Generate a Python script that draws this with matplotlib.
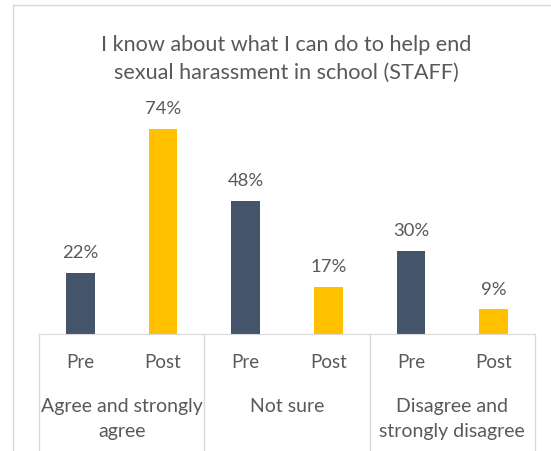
import matplotlib.pyplot as plt
from matplotlib.transforms import blended_transform_factory
from matplotlib.lines import Line2D

plt.rcParams['font.family'] = ['Lato', 'DejaVu Sans']

title = 'I know about what I can do to help end\nsexual harassment in school (STAFF)'
groups = ['Agree and strongly\nagree', 'Not sure', 'Disagree and\nstrongly disagree']
phases = ['Pre', 'Post']
pre_vals = [22, 48, 30]
post_vals = [74, 17, 9]

navy = '#44546A'
gold = '#FFC000'
grey_txt = '#595959'
grid_col = '#D9D9D9'

W, H = 551, 452
fig = plt.figure(figsize=(W / 100, H / 100), dpi=100)

# plot area: baseline at y=335px, x from 39 to 535px
y0, y1 = 335, 113
ax = fig.add_axes([39 / W, 1 - y0 / H, 496 / W, (y0 - y1) / H])
ax.set_xlim(-0.5, 5.5)
ax.set_ylim(0, 80)

xs, vals, cols, labs = [], [], [], []
for i in range(len(groups)):
    xs += [2 * i, 2 * i + 1]
    vals += [pre_vals[i], post_vals[i]]
    cols += [navy, gold]
    labs += phases

ax.bar(xs, vals, width=0.35, color=cols)
for x, v in zip(xs, vals):
    ax.annotate(f'{v}%', (x, v), xytext=(0, 9), textcoords='offset points',
                ha='center', va='bottom', fontsize=13.3, color=grey_txt)

for s in ['top', 'right', 'left']:
    ax.spines[s].set_visible(False)
ax.spines['bottom'].set_color(grid_col)
ax.set_xticks([])
ax.set_yticks([])

trans = blended_transform_factory(ax.transData, fig.transFigure)
for x, l in zip(xs, labs):
    ax.text(x, 1 - 362 / H, l, transform=trans, ha='center', va='center',
            fontsize=13.5, color=grey_txt)
for i, g in enumerate(groups):
    ax.text(2 * i + 0.5, 1 - 398 / H, g, transform=trans, ha='center',
            va='top', fontsize=14, color=grey_txt, linespacing=1.6)
for x in [-0.5, 1.5, 3.5, 5.5]:
    ax.plot([x, x], [1 - y0 / H, 0], transform=trans, color=grid_col,
            lw=1, clip_on=False)

# chart border
fig.add_artist(Line2D([13 / W, 13 / W], [0, 1 - 6 / H], color=grid_col, lw=1))
fig.add_artist(Line2D([13 / W, 1], [1 - 6 / H, 1 - 6 / H], color=grid_col, lw=1))

fig.text(286 / W, 1 - 59 / H, title, ha='center', va='center', fontsize=15.6,
         color=grey_txt, linespacing=1.5)

fig.savefig('out.png', dpi=100)
